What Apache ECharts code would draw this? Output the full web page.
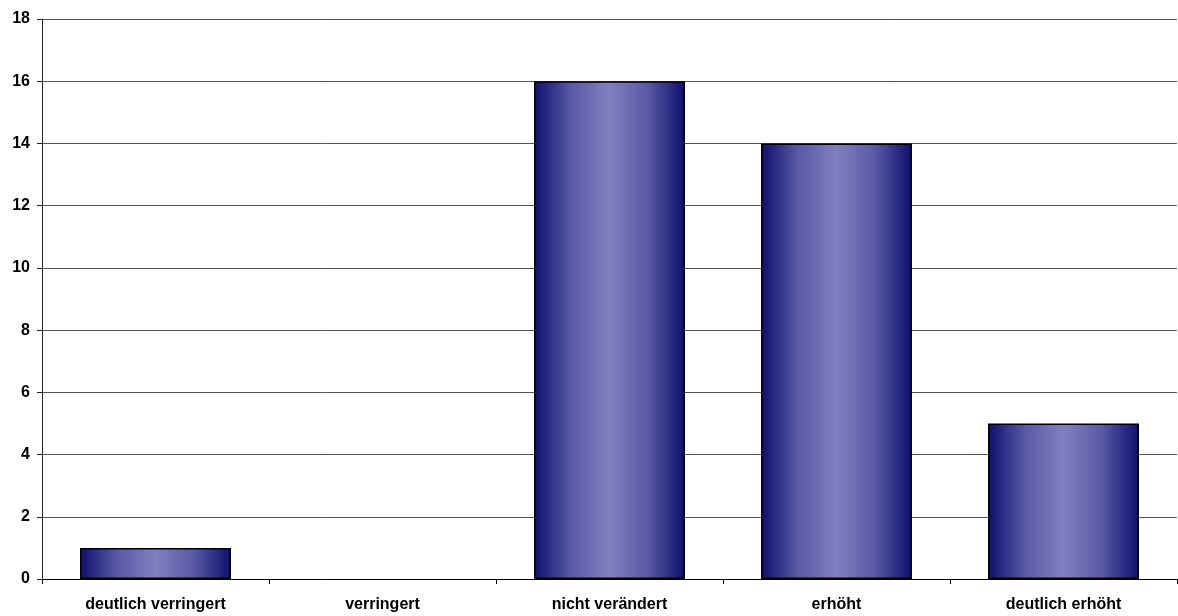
<!DOCTYPE html>
<html>
<head>
<meta charset="utf-8">
<script src="https://cdn.jsdelivr.net/npm/echarts@6/dist/echarts.min.js"></script>
<style>
html,body{margin:0;padding:0;background:#fff;}
#chart{width:1178px;height:616px;}
</style>
</head>
<body>
<div id="chart"></div>
<script>
// Antworthäufigkeiten je Kategorie
const categories = ['deutlich verringert', 'verringert', 'nicht verändert', 'erhöht', 'deutlich erhöht'];
const counts = [1, 0, 16, 14, 5];
const yTicks = { min: 0, max: 18, interval: 2 };

const barFill = new echarts.graphic.LinearGradient(0, 0, 1, 0, [
  { offset: 0, color: '#0f0f6e' },
  { offset: 0.25, color: '#5a5aa6' },
  { offset: 0.5, color: '#8080c0' },
  { offset: 0.75, color: '#5a5aa6' },
  { offset: 1, color: '#0f0f6e' }
]);

// Balken ohne Wert erhalten keinen Rahmen
const barData = counts.map(v => v === 0 ? { value: v, itemStyle: { borderWidth: 0 } } : v);

const labelFont = { color: '#000', fontFamily: 'Liberation Sans, Arial, sans-serif', fontWeight: 'bold', fontSize: 16 };

const chart = echarts.init(document.getElementById('chart'));
chart.setOption({
  animation: false,
  grid: { left: 42, right: 1, top: 19, bottom: 37 },
  xAxis: {
    type: 'category',
    data: categories,
    axisLine: { lineStyle: { color: '#000', width: 1 } },
    axisTick: { show: true, length: 5, alignWithLabel: false, lineStyle: { color: '#000' } },
    axisLabel: Object.assign({ margin: 18, interval: 0 }, labelFont)
  },
  yAxis: {
    type: 'value',
    min: yTicks.min, max: yTicks.max, interval: yTicks.interval,
    axisLine: { show: true, lineStyle: { color: '#222', width: 1 } },
    axisTick: { show: true, length: 5, lineStyle: { color: '#222' } },
    splitLine: { show: true, lineStyle: { color: '#555', width: 1 } },
    axisLabel: Object.assign({ margin: 12 }, labelFont)
  },
  series: [{
    type: 'bar',
    data: barData,
    barWidth: '66.5%',
    itemStyle: { color: barFill, borderColor: '#000', borderWidth: 1.5 }
  }]
});
</script>
</body>
</html>
